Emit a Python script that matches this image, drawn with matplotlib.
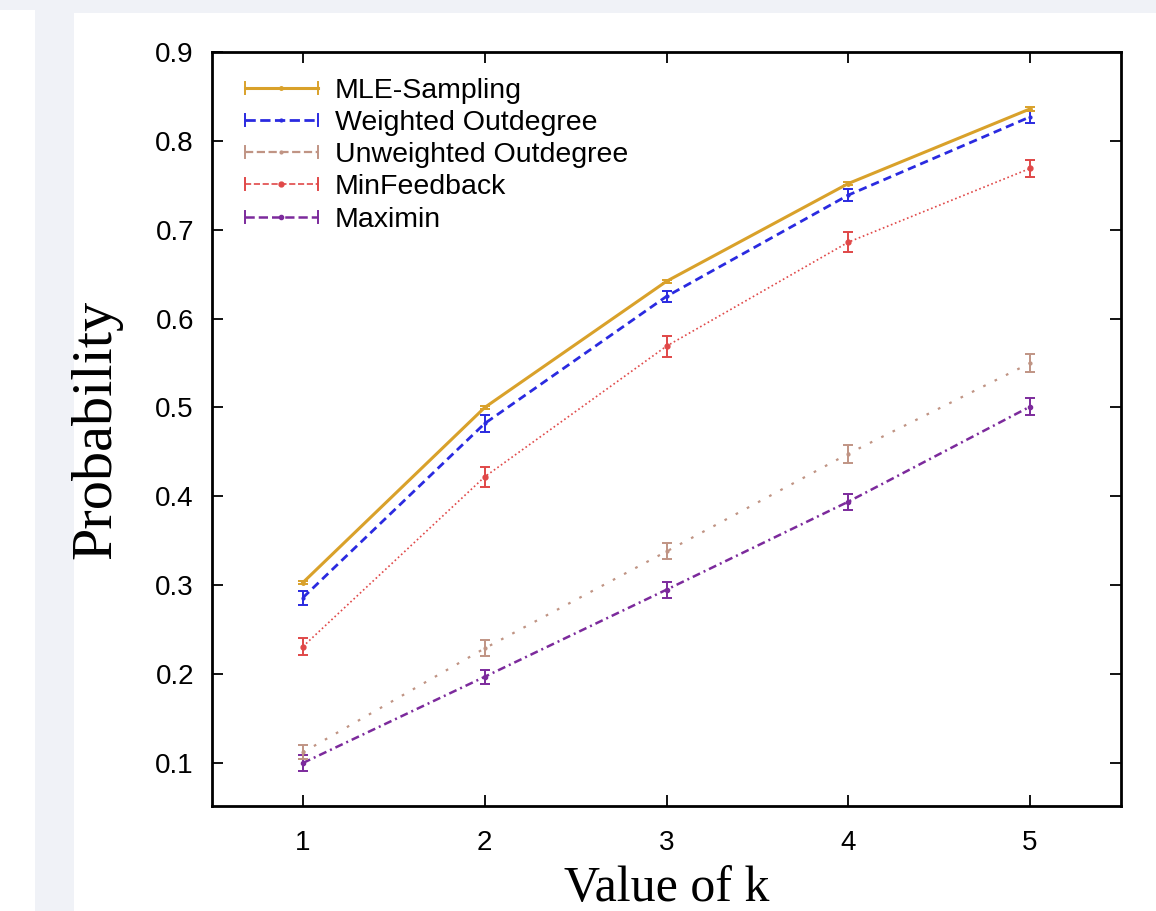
import matplotlib
matplotlib.use("Agg")
import matplotlib.pyplot as plt
from matplotlib.lines import Line2D
from matplotlib.legend_handler import HandlerBase
from matplotlib.patches import Rectangle

# ---------------- data ----------------
k_values = [1, 2, 3, 4, 5]
series_names = ["MLE-Sampling", "Weighted Outdegree", "Unweighted Outdegree",
                "MinFeedback", "Maximin"]
mle = [0.303, 0.500, 0.642, 0.752, 0.836]
mle_err = [0.002, 0.002, 0.002, 0.002, 0.002]
weighted = [0.286, 0.482, 0.625, 0.739, 0.827]
weighted_err = [0.008, 0.010, 0.006, 0.007, 0.007]
unweighted = [0.112, 0.229, 0.338, 0.448, 0.550]
unweighted_err = [0.008, 0.009, 0.009, 0.010, 0.010]
minfeedback = [0.231, 0.422, 0.569, 0.686, 0.769]
minfeedback_err = [0.010, 0.011, 0.012, 0.011, 0.010]
maximin = [0.100, 0.197, 0.295, 0.394, 0.501]
maximin_err = [0.009, 0.008, 0.009, 0.009, 0.010]
y_ticks = [0.1, 0.2, 0.3, 0.4, 0.5, 0.6, 0.7, 0.8, 0.9]

# ---------------- styles ----------------
styles = [
    dict(color="#d9a12a", lw=2.2, dashes=None, ms=2.5),
    dict(color="#2a2ae0", lw=2.0, dashes=(3.0, 1.8), ms=2.0),
    dict(color="#c09484", lw=1.6, dashes=(1.2, 4.5), ms=2.0),
    dict(color="#e04848", lw=1.2, dashes=(1.0, 1.6), ms=3.5),
    dict(color="#7c2a9c", lw=1.8, dashes=(3.2, 1.6, 0.8, 1.6), ms=3.0),
]
values = [mle, weighted, unweighted, minfeedback, maximin]
errors = [mle_err, weighted_err, unweighted_err, minfeedback_err, maximin_err]

W, H = 1156, 911
fig = plt.figure(figsize=(W / 100, H / 100), dpi=100)
fig.patch.set_facecolor("#f0f2f7")
fig.patches.append(Rectangle((0, 0), 35 / W, (H - 10) / H, transform=fig.transFigure,
                             facecolor="white", edgecolor="none", zorder=-5))
fig.patches.append(Rectangle((74 / W, 0), 1 - 74 / W, (H - 13) / H, transform=fig.transFigure,
                             facecolor="white", edgecolor="none", zorder=-5))

ax = fig.add_axes([212 / W, 1 - 806 / H, (1121 - 212) / W, (806 - 52) / H])
ax.set_zorder(2)
ax.set_facecolor("white")

proxies = []
order = [4, 3, 2, 1, 0]
for i in order:
    st = styles[i]
    ls = "-" if st["dashes"] is None else (0, st["dashes"])
    ax.errorbar(k_values, values[i], yerr=errors[i], color=st["color"],
                lw=st["lw"], linestyle=ls, marker="o", ms=st["ms"],
                elinewidth=1.4, capsize=3.5, capthick=1.4, zorder=3 + (5 - i))
for i in range(5):
    st = styles[i]
    ls = "-" if st["dashes"] is None else (0, st["dashes"])
    proxies.append(Line2D([], [], color=st["color"], lw=st["lw"], linestyle=ls,
                          marker="o", ms=st["ms"]))


class CapHandler(HandlerBase):
    def create_artists(self, legend, orig_handle, xdescent, ydescent, width, height,
                       fontsize, trans):
        x0 = -xdescent
        x1 = -xdescent + width
        y = (height - ydescent) / 2
        ch = 0.3 * height
        main = Line2D([x0, x1], [y, y], color=orig_handle.get_color(),
                      lw=orig_handle.get_linewidth(), linestyle=orig_handle.get_linestyle(),
                      transform=trans)
        mid = Line2D([(x0 + x1) / 2], [y], color=orig_handle.get_color(), marker="o",
                     ms=orig_handle.get_markersize(), linestyle="none", transform=trans)
        c1 = Line2D([x0, x0], [y - ch, y + ch], color=orig_handle.get_color(), lw=1.4,
                    transform=trans)
        c2 = Line2D([x1, x1], [y - ch, y + ch], color=orig_handle.get_color(), lw=1.4,
                    transform=trans)
        return [main, mid, c1, c2]


leg = ax.legend(proxies, series_names, loc="upper left", bbox_to_anchor=(0.036, 0.966),
                frameon=False, handler_map={Line2D: CapHandler()},
                prop=dict(family="Liberation Sans", size=20.5), handlelength=2.57,
                handletextpad=0.6, labelspacing=0.22, borderpad=0.0, borderaxespad=0.0)

ax.set_xlim(0.5, 5.5)
ax.set_ylim(0.0516, 0.9)
ax.set_xticks(k_values)
ax.set_yticks(y_ticks)
ax.set_yticklabels([f"{v:.1f}" for v in y_ticks])
ax.tick_params(direction="in", length=8, width=1.3, top=True, right=True,
               labelsize=20, colors="black")
ax.tick_params(axis="y", pad=13)
ax.tick_params(axis="x", pad=17)
for lab in ax.get_xticklabels() + ax.get_yticklabels():
    lab.set_family("Liberation Sans")
for sp in ax.spines.values():
    sp.set_linewidth(2.0)
    sp.set_color("black")

ax.set_ylabel("Probability", family="Liberation Serif", fontsize=42)
ax.yaxis.set_label_coords(-0.099, 0.5)
ax.set_xlabel("Value of k", family="Liberation Serif", fontsize=36)
ax.xaxis.set_label_coords(0.5, -0.079)
ax.xaxis.label.set_va("top")

fig.savefig("out.png", dpi=100, facecolor=fig.get_facecolor())
